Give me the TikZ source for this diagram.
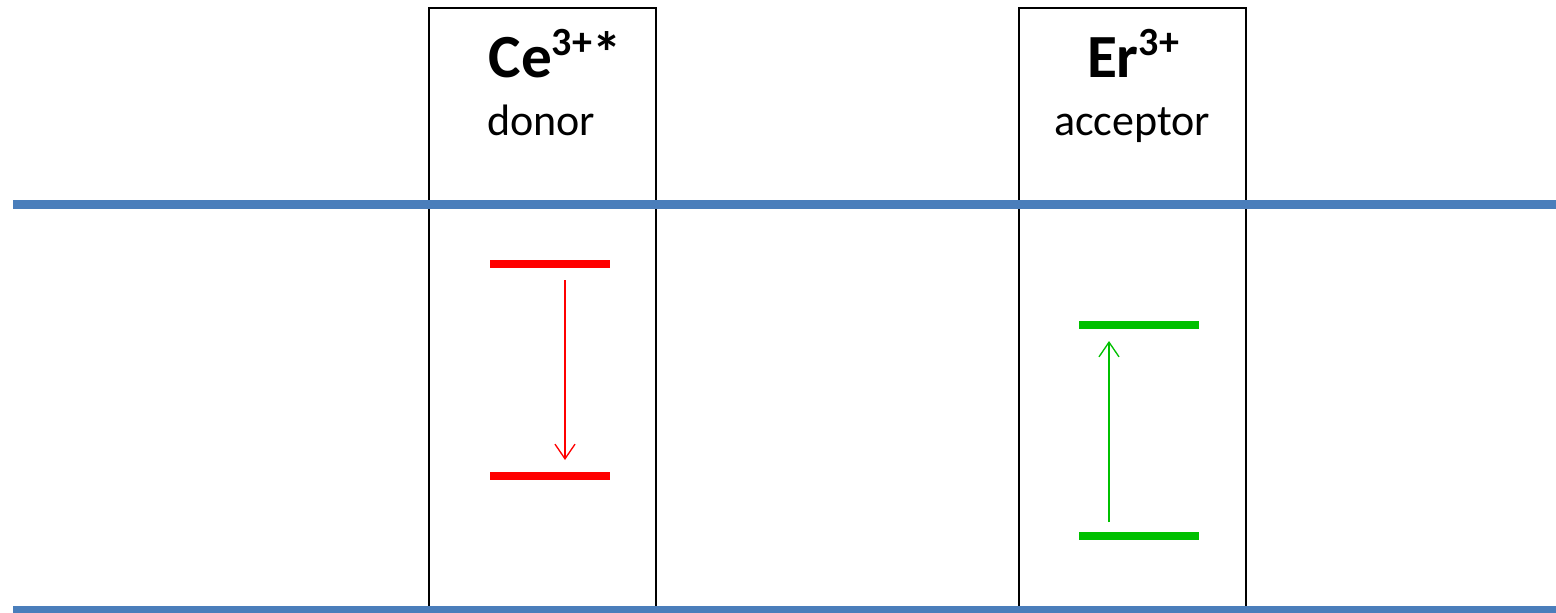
\documentclass[tikz,border=0pt]{standalone}
\usepackage{fontspec}
\setmainfont{Carlito}
\usetikzlibrary{arrows.meta}
\definecolor{lineblue}{HTML}{4A7EBB}
\definecolor{lvred}{HTML}{FF0000}
\definecolor{lvgreen}{HTML}{00C000}
\tikzset{
  ionbox/.style={draw=black, line width=1.5pt, minimum width=227*0.75pt, minimum height=600*0.75pt, inner sep=0pt},
  band/.style={draw=lineblue, line width=6.5pt},
  redlevel/.style={draw=lvred, line width=6pt},
  greenlevel/.style={draw=lvgreen, line width=6pt},
  trans/.style={line width=1pt, -{Straight Barb[length=11pt, width=15pt, line width=1pt]}},
  ionname/.style={font=\fontsize{46}{50}\selectfont\bfseries, inner sep=0pt, anchor=base},
  iontype/.style={font=\fontsize{33}{38}\selectfont, inner sep=0pt, anchor=base}
}
\newcommand{\supx}[1]{\raisebox{0.36em}{\fontsize{30}{34}\selectfont #1}}
\newcommand{\bigast}{\raisebox{0.07em}{\fontsize{44}{48}\selectfont *}}
\begin{document}
\begin{tikzpicture}[x=0.75pt, y=-0.75pt]
\useasboundingbox (0,0) rectangle (1556,613);
% boxes
\node[ionbox] (donorbox) at (542.5,308) {};
\node[ionbox] (accbox) at (1132.5,308) {};
% bands
\coordinate (bt1) at (13,204.5);
\coordinate (bt2) at (1556,204.5);
\coordinate (bb1) at (13,610);
\coordinate (bb2) at (1556,610);
\draw[band] (bt1) -- (bt2);
\draw[band] (bb1) -- (bb2);
% labels
\node[ionname] (ce) at (555,78) {Ce\supx{3+}\bigast};
\node[iontype] (donor) at (541,136) {donor};
\node[ionname] (er) at (1133,78) {Er\supx{3+}};
\node[iontype] (acc) at (1132,136) {acceptor};
% red levels
\coordinate (r1a) at (490,264);
\coordinate (r1b) at (610,264);
\coordinate (r2a) at (490,476);
\coordinate (r2b) at (610,476);
\draw[redlevel] (r1a) -- (r1b);
\draw[redlevel] (r2a) -- (r2b);
\coordinate (ra) at (565,280);
\coordinate (rb) at (565,460);
\draw[trans, lvred] (ra) -- (rb);
% green levels
\coordinate (g1a) at (1079,325);
\coordinate (g1b) at (1199,325);
\coordinate (g2a) at (1079,536);
\coordinate (g2b) at (1199,536);
\draw[greenlevel] (g1a) -- (g1b);
\draw[greenlevel] (g2a) -- (g2b);
\coordinate (ga) at (1109,522);
\coordinate (gb) at (1109,341);
\draw[trans, lvgreen] (ga) -- (gb);
\end{tikzpicture}
\end{document}
